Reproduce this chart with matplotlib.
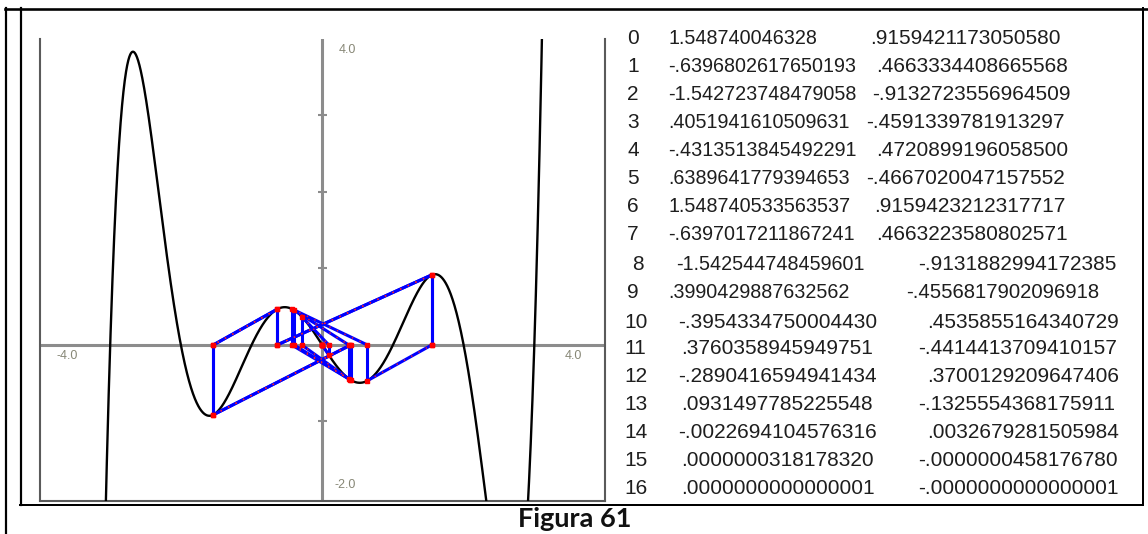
import numpy as np
import matplotlib
matplotlib.use("Agg")
import matplotlib.pyplot as plt

# iteration table (Newton steps), kept as printed
idx = list(range(17))
x_txt = ["1.548740046328", "-.6396802617650193", "-1.542723748479058",
         ".4051941610509631", "-.4313513845492291", ".6389641779394653",
         "1.548740533563537", "-.6397017211867241", "-1.542544748459601",
         ".3990429887632562", "-.3954334750004430", ".3760358945949751",
         "-.2890416594941434", ".0931497785225548", "-.0022694104576316",
         ".0000000318178320", ".0000000000000001"]
y_txt = [".9159421173050580", ".4663334408665568", "-.9132723556964509",
         "-.4591339781913297", ".4720899196058500", "-.4667020047157552",
         ".9159423212317717", ".4663223580802571", "-.9131882994172385",
         "-.4556817902096918", ".4535855164340729", "-.4414413709410157",
         ".3700129209647406", "-.1325554368175911", ".0032679281505984",
         "-.0000000458176780", "-.0000000000000001"]

# curve: polynomial read from its zeros and height
roots = [-3, -2, -1, 0, 1, 2, 3]
lead = 0.04
x_min, x_max = -4.0, 4.0
y_min, y_max = -2.0, 4.0
y_ticks = [-1, 1, 2, 3]
caption = "Figura 61"

xs_it = np.array([float(s) for s in x_txt])
ys_it = np.array([float(s) for s in y_txt])

W, H = 1148, 534
fig = plt.figure(figsize=(W / 100, H / 100), dpi=100)

# page overlay in pixel coordinates
bg = fig.add_axes([0, 0, 1, 1])
bg.set_xlim(0, W)
bg.set_ylim(H, 0)
bg.axis("off")
lw_px = 0.72
bg.plot([6, 6], [8, H], color="k", lw=2.2 * lw_px)
bg.plot([5, 1148], [8.5, 8.5], color="k", lw=2.6 * lw_px)
bg.plot([20.5, 20.5], [8, 504.5], color="k", lw=2.2 * lw_px)
bg.plot([20, 1143], [504.5, 504.5], color="k", lw=2.0 * lw_px)
bg.plot([1142.5, 1142.5], [8, 505], color="k", lw=2.0 * lw_px)

# table text
row_y = [37, 65, 93, 121, 149, 176, 204, 232, 262, 291, 320, 347, 375, 403, 431, 459, 486]
idx_x = [627] * 8 + [632, 627] + [624] * 7
xv_x = [668] * 8 + [676, 668, 678, 681, 678, 681, 678, 681, 681]
yv_x = [870, 876, 872, 866, 876, 866, 874, 876, 918, 906, 927, 918, 927, 918, 927, 918, 918]
xv_fs = [14.2] * 10 + [15.0] * 7
yv_fs = [15.0] * 8 + [15.0, 14.6] + [15.0] * 7
tkw = dict(family="Liberation Sans", color="#1e1e1e", va="baseline", ha="left")
for i in idx:
    b = row_y[i] + 7.5
    bg.text(idx_x[i], b, str(i), fontsize=15, **tkw)
    bg.text(xv_x[i], b, x_txt[i], fontsize=xv_fs[i], **tkw)
    bg.text(yv_x[i], b, y_txt[i], fontsize=yv_fs[i], **tkw)

bg.text(575, 519, caption, fontsize=19.5, family="Lato", fontweight="bold",
        color="#111111", ha="center", va="center")

# plot area
left, right, top, bottom = 39.5, 605, 39, 500.5
ax = fig.add_axes([left / W, 1 - bottom / H, (right - left) / W, (bottom - top) / H])
ax.set_xlim(x_min, x_max)
ax.set_ylim(y_min - 0.033, y_max)
ax.set_xticks([])
ax.set_yticks([])
ax.patch.set_alpha(0)
ax.spines["top"].set_visible(False)
for s in ["left", "right", "bottom"]:
    ax.spines[s].set_color("#5a5a5a")
    ax.spines[s].set_linewidth(1.5)

ax.axhline(0, color="#8c8c8c", lw=2.2, zorder=1)
ax.axvline(0, color="#8c8c8c", lw=2.2, zorder=1)
ax.hlines(y_ticks, -0.065, 0.065, color="#8c8c8c", lw=1.5, zorder=1)

lab = dict(fontsize=9, family="Liberation Sans", color="#878776", ha="center", va="center")
ax.text(x_min + 0.39, -0.145, f"{x_min:.1f}", **lab)
ax.text(x_max - 0.45, -0.15, f"{x_max:.1f}", **lab)
ax.text(0.35, y_max - 0.145, f"{y_max:.1f}", **lab)
ax.text(0.32, y_min + 0.17, f"{y_min:.1f}", **lab)

xs = np.linspace(x_min, x_max, 3000)
ax.plot(xs, np.polyval(lead * np.poly(roots), xs), color="k", lw=1.7, zorder=3)

# Newton cobweb: vertical to curve, tangent down to the next x
for n in range(len(xs_it)):
    ax.plot([xs_it[n], xs_it[n]], [0, ys_it[n]], color="#0000ff", lw=2.2, zorder=4,
            solid_capstyle="butt")
    if n + 1 < len(xs_it):
        ax.plot([xs_it[n], xs_it[n + 1]], [ys_it[n], 0], color="#0000ff", lw=2.2, zorder=4)
        ax.plot([xs_it[n], xs_it[n + 1]], [ys_it[n], 0], color="#ff2020", lw=1.0,
                ls=(0, (1, 5)), zorder=5)
ax.plot(xs_it, ys_it, "s", color="#ff0000", ms=3.5, zorder=6)
ax.plot(xs_it, np.zeros_like(xs_it), "s", color="#ff0000", ms=3.5, zorder=6)

fig.savefig("out.png", dpi=100)
